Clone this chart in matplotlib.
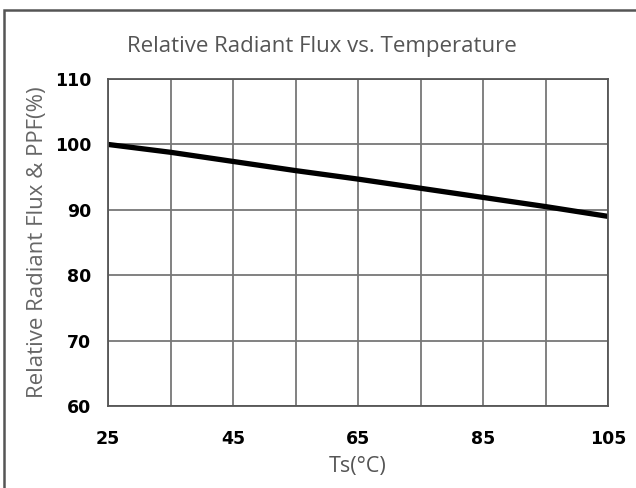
import matplotlib.pyplot as plt
from matplotlib.patches import Rectangle

# Relative radiant flux vs. solder temperature
temps = [25, 35, 45, 55, 65, 75, 85, 95, 105]
flux = [100, 98.8, 97.4, 96.0, 94.7, 93.3, 91.9, 90.5, 89.0]
xticks = [25, 45, 65, 85, 105]
yticks = [60, 70, 80, 90, 100, 110]

fig = plt.figure(figsize=(6.36, 4.88), dpi=100)
ax = fig.add_axes([0.170, 0.168, 0.786, 0.670])

# outer frame
fig.patches.append(Rectangle((0.007, -0.05), 1.1, 1.03, transform=fig.transFigure,
                             fill=False, edgecolor='#555555', linewidth=1.8))

ax.plot(temps, flux, color='black', linewidth=3.8, solid_capstyle='butt')

ax.set_xlim(25, 105)
ax.set_ylim(60, 110)
ax.set_xticks(xticks)
ax.set_xticks(range(35, 106, 20), minor=True)
ax.set_yticks(yticks)
ax.grid(True, which='both', color='#777777', linewidth=1.3)
ax.tick_params(which='both', length=0)
ax.tick_params(axis='x', pad=17)
ax.tick_params(axis='y', pad=12)
for lab in ax.get_xticklabels() + ax.get_yticklabels():
    lab.set_fontweight('bold')
    lab.set_fontsize(12.5)
    lab.set_family('DejaVu Sans')
for s in ax.spines.values():
    s.set_color('#555555')
    s.set_linewidth(1.3)

fig.text(0.506, 0.905, 'Relative Radiant Flux vs. Temperature', fontsize=16,
         color='#555555', family='Open Sans', ha='center', va='center')
ax.set_xlabel('Ts(°C)', fontsize=15.5, color='#555555', family='Open Sans', labelpad=6)
ax.set_ylabel('Relative Radiant Flux & PPF(%)', fontsize=16, color='#666666',
              family='Open Sans', labelpad=5)

fig.savefig('out.png', dpi=100)
